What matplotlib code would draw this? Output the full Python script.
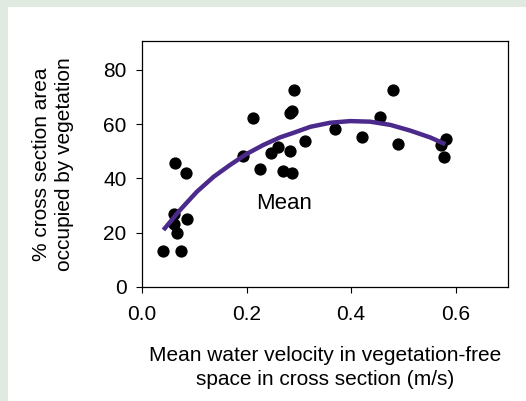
import numpy as np
import matplotlib
matplotlib.use("Agg")
import matplotlib.pyplot as plt
from matplotlib.patches import Rectangle


# =====================================
# DATA
# =====================================

velocity = [
    0.040, 0.075, 0.066, 0.062, 0.062, 0.086, 0.063, 0.084,
    0.193, 0.213, 0.225, 0.246, 0.260, 0.270, 0.287, 0.284,
    0.286, 0.284, 0.290, 0.312, 0.370, 0.420, 0.455, 0.480,
    0.490, 0.581, 0.572, 0.577,
]

veg_area = [
    13.1, 13.1, 19.8, 26.9, 23.2, 24.9, 45.8, 41.9,
    48.3, 62.2, 43.6, 49.2, 51.7, 42.6, 41.9, 50.2,
    64.8, 64.0, 72.4, 53.7, 58.3, 55.1, 62.6, 72.4,
    52.7, 54.6, 52.4, 48.0,
]

# mean curve
mean_x = [0.041, 0.073, 0.105, 0.137, 0.168, 0.200, 0.232, 0.264,
          0.290, 0.322, 0.360, 0.398, 0.436, 0.475, 0.513, 0.551, 0.580]
mean_y = [21.0, 28.4, 35.1, 40.6, 44.9, 49.0, 52.3, 55.1,
          56.8, 59.0, 60.5, 61.1, 60.9, 59.7, 57.6, 55.1, 52.6]

x_ticks = [0.0, 0.2, 0.4, 0.6]
y_ticks = [0, 20, 40, 60, 80]


# =====================================
# Figure
# =====================================

plt.rcParams["font.family"] = ["Liberation Sans", "DejaVu Sans"]

fig = plt.figure(figsize=(5.26, 4.01), dpi=100)
fig.patch.set_facecolor("white")

# light green frame strips (left + top)
fig.add_artist(Rectangle((0, 0), 8 / 526, 1, transform=fig.transFigure,
                         facecolor="#e0eae0", edgecolor="none"))
fig.add_artist(Rectangle((0, 1 - 7 / 401), 1, 7 / 401, transform=fig.transFigure,
                         facecolor="#e0eae0", edgecolor="none"))

ax = fig.add_axes([142 / 526, 114 / 401, 366 / 526, 246 / 401])


# -------------------------------------
# Points + mean curve
# -------------------------------------

ax.scatter(velocity, veg_area, s=78, color="black", zorder=3, linewidths=0)

ax.plot(mean_x, mean_y, color="#4b2a8c", linewidth=3.2,
        solid_capstyle="butt", solid_joinstyle="round", zorder=4)

ax.text(0.271, 30.6, "Mean", fontsize=16, ha="center", va="center")


# =====================================
# Axes
# =====================================

ax.set_xlim(0, 0.70)
ax.set_ylim(0, 90.6)

ax.set_xticks(x_ticks)
ax.set_xticklabels([f"{t:.1f}" for t in x_ticks])
ax.set_yticks(y_ticks)

ax.tick_params(direction="out", length=4, width=0.8,
               labelsize=15, colors="black")
ax.tick_params(axis="x", pad=9)
ax.tick_params(axis="y", pad=7)

for sp in ax.spines.values():
    sp.set_linewidth(0.9)
    sp.set_color("black")

ax.set_xlabel(
    "Mean water velocity in vegetation-free\nspace in cross section (m/s)",
    fontsize=15, linespacing=1.3, labelpad=16
)
ax.set_ylabel(
    "% cross section area\noccupied by vegetation",
    fontsize=15, linespacing=1.3, labelpad=21
)

fig.savefig("out.png", dpi=100)
